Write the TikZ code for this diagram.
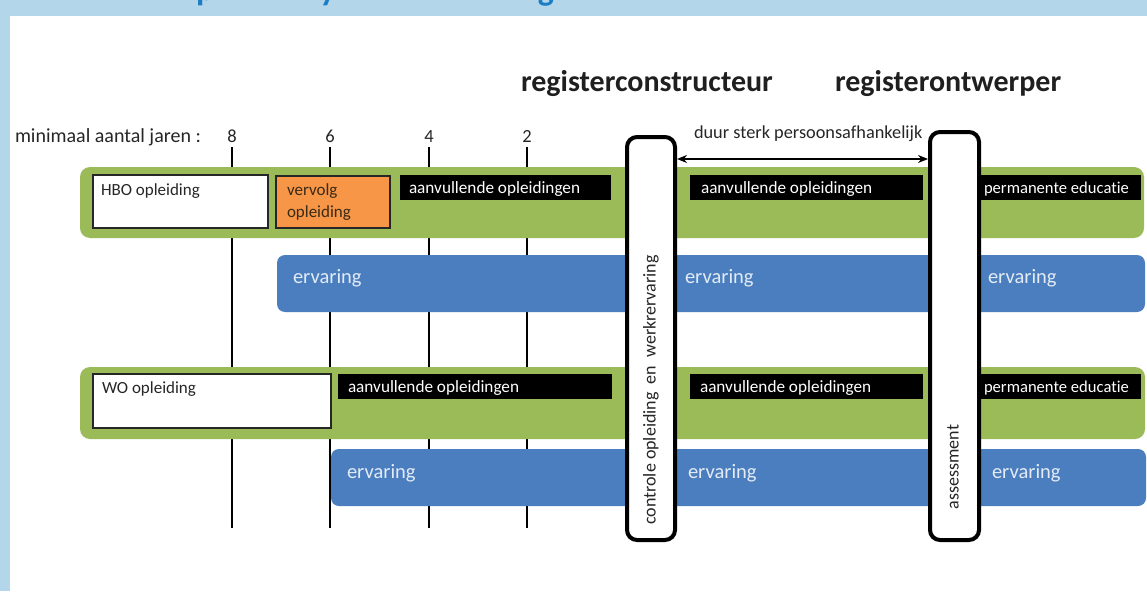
\documentclass[tikz,border=0pt]{standalone}
\usepackage{fontspec}
\setmainfont{Carlito}[Ligatures=NoCommon]
\usetikzlibrary{arrows.meta}
\definecolor{bandblue}{HTML}{B4D6EB}
\definecolor{titleblue}{HTML}{1B7DC3}
\definecolor{bargreen}{HTML}{9BBB59}
\definecolor{barblue}{HTML}{4A7EBF}
\definecolor{boxorange}{HTML}{F79646}
\definecolor{txtgray}{HTML}{262626}
\definecolor{ervtext}{HTML}{E3EBF5}
\definecolor{orangetext}{HTML}{3A2A18}
\begin{document}
\begin{tikzpicture}[x=1pt,y=-1pt,
  every node/.style={inner sep=0pt,outer sep=0pt},
  lbl/.style={font=\fontsize{17}{20}\selectfont,text=txtgray},
  numlbl/.style={font=\fontsize{18.5}{21}\selectfont,text=txtgray,anchor=base},
  header/.style={font=\bfseries\fontsize{30}{35}\selectfont,text=black!88,anchor=base west},
  greenbar/.style={fill=bargreen,rounded corners=10pt,anchor=north west},
  ervbar/.style={fill=barblue,rounded corners=8pt,anchor=north west},
  ervlbl/.style={font=\fontsize{20.5}{24}\selectfont,text=ervtext,anchor=base west},
  blkbar/.style={fill=black,anchor=north west,minimum height=25pt},
  blklbl/.style={font=\fontsize{17.2}{20}\selectfont,text=white,anchor=base west},
  permlbl/.style={font=\fontsize{16.6}{20}\selectfont,text=white,anchor=base west},
  openbox/.style={draw=black!85,line width=1.2pt,fill=white,anchor=north west},
  gatebox/.style={draw=black,line width=4pt,rounded corners=10pt,fill=white,anchor=north west},
  gatelbl/.style={font=\fontsize{18}{22}\selectfont,text=txtgray,rotate=90},
  tickline/.style={draw=black,line width=1.2pt},
  titlefrag/.style={font=\bfseries\fontsize{34}{40}\selectfont,text=titleblue,anchor=base}
]
\useasboundingbox (0,0) rectangle (1147,591);
% background bands
\fill[white] (0,0) rectangle (1147,591);
\fill[bandblue] (0,0) rectangle (1147,16);
\fill[bandblue] (0,0) rectangle (10,591);
% clipped title fragments
\begin{scope}
  \clip (0,0) rectangle (1147,11);
  \node[titlefrag,anchor=base west] (tp) at (196,1) {p};
  \node[titlefrag] (ty) at (328,1) {y};
  \node[titlefrag] (tg) at (546,1) {g};
\end{scope}
% headers
\node[header] (hcon) at (521,92) {registerconstructeur};
\node[header] (hont) at (835,92) {registerontwerper};
% year scale
\node[lbl,font=\fontsize{20}{24}\selectfont,anchor=base west] (minj) at (15,142) {minimaal aantal jaren :};
\node[numlbl] (n8) at (232,142) {8};
\node[numlbl] (n6) at (330,142) {6};
\node[numlbl] (n4) at (429,142) {4};
\node[numlbl] (n2) at (527,142) {2};
\coordinate (e8) at (232,528);
\coordinate (e6) at (330,528);
\coordinate (e4) at (429,528);
\coordinate (e2) at (527,528);
\draw[tickline] ([yshift=-5pt]n8.south) -- (e8);
\draw[tickline] ([yshift=-5pt]n6.south) -- (e6);
\draw[tickline] ([yshift=-5pt]n4.south) -- (e4);
\draw[tickline] ([yshift=-5pt]n2.south) -- (e2);
% HBO row
\node[greenbar,minimum width=1064pt,minimum height=71pt] (hbogreen) at (80,167) {};
\node[openbox,minimum width=175pt,minimum height=53pt] (hbobox) at (93,175) {};
\node[lbl,anchor=base west] (hbotxt) at (101,195) {HBO opleiding};
\node[draw=black!85,line width=1.2pt,fill=boxorange,anchor=north west,minimum width=114pt,minimum height=52pt] (vervbox) at (276,176) {};
\node[lbl,text=orangetext,anchor=base west] (vervtxt1) at (287,195) {vervolg};
\node[lbl,text=orangetext,anchor=base west] (vervtxt2) at (287,217) {opleiding};
\node[blkbar,minimum width=211pt] (hboaan1) at (400,175) {};
\node[blklbl] (hboaan1t) at (409,193) {aanvullende opleidingen};
\node[blkbar,minimum width=233pt] (hboaan2) at (690,175) {};
\node[blklbl] (hboaan2t) at (701,193) {aanvullende opleidingen};
\node[blkbar,minimum width=164pt] (hboperm) at (977,175) {};
\node[permlbl] (hbopermt) at (984,193) {permanente educatie};
% HBO ervaring
\node[ervbar,minimum width=868pt,minimum height=57pt] (hboerv) at (277,255) {};
\node[ervlbl] (hboerv1) at (293,283) {ervaring};
\node[ervlbl] (hboerv2) at (685,283) {ervaring};
\node[ervlbl] (hboerv3) at (988,283) {ervaring};
% WO row
\node[greenbar,minimum width=1065pt,minimum height=72pt] (wogreen) at (80,367) {};
\node[openbox,minimum width=238pt,minimum height=54pt] (wobox) at (93,374) {};
\node[lbl,anchor=base west] (wotxt) at (102,393) {WO opleiding};
\node[blkbar,minimum width=274pt] (woaan1) at (338,374) {};
\node[blklbl] (woaan1t) at (348,392) {aanvullende opleidingen};
\node[blkbar,minimum width=233pt] (woaan2) at (690,374) {};
\node[blklbl] (woaan2t) at (700,392) {aanvullende opleidingen};
\node[blkbar,minimum width=164pt] (woperm) at (977,374) {};
\node[permlbl] (wopermt) at (984,392) {permanente educatie};
% WO ervaring
\node[ervbar,minimum width=815pt,minimum height=57pt] (woerv) at (331,449) {};
\node[ervlbl] (woerv1) at (347,478) {ervaring};
\node[ervlbl] (woerv2) at (688,478) {ervaring};
\node[ervlbl] (woerv3) at (992,478) {ervaring};
% gates
\node[gatebox,minimum width=48pt,minimum height=403pt] (ctrl) at (627,137) {};
\node[gatelbl] (ctrlt) at (651,390) {controle opleiding\ \ en\ \ werkrervaring};
\node[gatebox,minimum width=49pt,minimum height=408pt] (assess) at (930,132) {};
\node[gatelbl] (assesst) at (953,467) {assessment};
% duration arrow
\node[lbl,font=\fontsize{18.3}{22}\selectfont,anchor=base west] (duur) at (694,139) {duur sterk persoonsafhankelijk};
\coordinate (arrowrow) at (0,159);
\draw[line width=2pt,{Stealth[length=10pt,width=8pt]}-{Stealth[length=10pt,width=8pt]}]
  ([xshift=2pt]ctrl.east |- arrowrow) -- ([xshift=-2pt]assess.west |- arrowrow);
\end{tikzpicture}
\end{document}
